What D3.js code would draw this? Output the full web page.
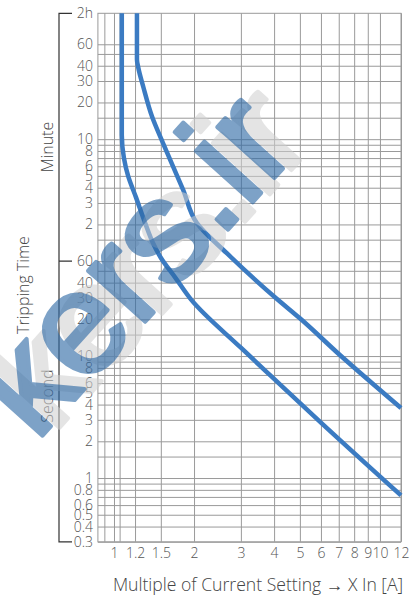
<!DOCTYPE html>
<html><head><meta charset="utf-8">
<script src="https://cdn.jsdelivr.net/npm/d3@7"></script>
<style>html,body{margin:0;padding:0;background:#fff;} svg{display:block;font-family:"Open Sans",sans-serif;}</style>
</head><body><svg id="c" width="411" height="604"></svg>
<script>
// ---- data ----
const xTickValues = [1, 1.2, 1.5, 2, 3, 4, 5, 6, 7, 8, 9, 10, 12];
const xTickLabels = ["1", "1.2", "1.5", "2", "3", "4", "5", "6", "7", "8", "9", "10", "12"];
const xGridValues = [0.92, 1, 1.05, 1.2, 1.5, 2, 3, 4, 5, 6, 7, 8, 9, 10, 12];
const xDomain = [0.87, 12];
const secondGrid = [0.3, 0.4, 0.5, 0.6, 0.7, 0.8, 0.9, 1, 1.5, 2, 3, 4, 5, 6, 7, 8, 9, 10, 15, 20, 30, 40, 50];
const minuteGrid = [1, 1.5, 2, 3, 4, 5, 6, 7, 8, 9, 10, 15, 20, 30, 40, 50, 60];
const secondLabels = [0.3, 0.4, 0.5, 0.6, 0.8, 1, 2, 3, 4, 5, 6, 8, 10, 20, 30, 40, 60];
const minuteLabels = [2, 3, 4, 5, 6, 8, 10, 20, 30, 40, 60];
const topLabel = "2h";
const tBottom = 0.3;     // seconds, bottom edge of grid
const tTop = 6460;       // seconds, top edge of grid (labelled 2h)
// tripping curves: multiple of In, time in seconds
const lowerX = [1.07, 1.07, 1.09, 1.13, 1.21, 1.31, 1.40, 1.50, 1.70, 1.95, 3, 4, 6, 12];
const lowerT = [6460, 650, 420, 300, 200, 123, 85, 64, 44, 29, 11.7, 6.5, 2.85, 0.72];
const upperX = [1.22, 1.22, 1.235, 1.29, 1.39, 1.53, 1.82, 2.05, 2.65, 4.09, 5, 7.07, 12];
const upperT = [6460, 2700, 2300, 1600, 920, 555, 230, 123, 70, 29.5, 20.4, 10.2, 3.75];
const watermark = "kers.ir";
const xTitle = "Multiple of Current Setting \u2192 X In [A]";

// ---- layout ----
const L = 97.9, R = 401, T = 13.3, B = 541.8;
const svg = d3.select("#c");
const x = d3.scaleLog().domain(xDomain).range([L, R]);
const y = d3.scaleLog().domain([tBottom, tTop]).range([B, T]);
const gridColor = "#9a9a9a";

// grid (vertical)
svg.append("g").attr("transform", `translate(0,${B})`)
  .call(d3.axisBottom(x).tickValues(xGridValues).tickSize(-(B - T)).tickFormat(""))
  .call(g => g.select(".domain").remove())
  .call(g => g.selectAll("line").attr("stroke", gridColor).attr("stroke-width", 1));
// grid (horizontal)
const hGrid = secondGrid.concat(minuteGrid.map(m => m * 60));
svg.append("g").attr("transform", `translate(${L},0)`)
  .call(d3.axisLeft(y).tickValues(hGrid).tickSize(-(R - L)).tickFormat(""))
  .call(g => g.select(".domain").remove())
  .call(g => g.selectAll("line").attr("stroke", gridColor).attr("stroke-width", 1));
// frame
svg.append("rect").attr("x", L).attr("y", T).attr("width", R - L).attr("height", B - T)
  .attr("fill", "none").attr("stroke", gridColor).attr("stroke-width", 1);

// curves
const line = d3.line().x(d => x(d[0])).y(d => y(d[1])).curve(d3.curveMonotoneY);
[[lowerX, lowerT], [upperX, upperT]].forEach(([xs, ts]) => {
  svg.append("path").datum(xs.map((v, i) => [v, ts[i]]))
    .attr("d", line).attr("fill", "none").attr("stroke", "#3b7bc2")
    .attr("stroke-width", 4.5).attr("stroke-linecap", "butt").attr("stroke-linejoin", "round");
});

// x axis labels
svg.append("g").attr("transform", `translate(0,${B})`)
  .call(d3.axisBottom(x).tickValues(xTickValues).tickSize(0).tickPadding(6)
    .tickFormat((d, i) => xTickLabels[i]))
  .call(g => g.select(".domain").remove())
  .call(g => g.selectAll("text").attr("fill", "#555").attr("font-size", 14)
    .attr("font-family", "'Open Sans',sans-serif").attr("font-weight", 300));

// y axis labels
const lab = g => g.call(gg => gg.select(".domain").remove())
  .call(gg => gg.selectAll("text").attr("fill", "#555").attr("font-size", 14)
    .attr("font-family", "'Open Sans',sans-serif").attr("font-weight", 300));
const yLabX = 96;
svg.append("g").attr("transform", `translate(${yLabX},0)`)
  .call(d3.axisLeft(y).tickValues(secondLabels).tickSize(0).tickPadding(3).tickFormat(d => String(d)))
  .call(lab);
svg.append("g").attr("transform", `translate(${yLabX},0)`)
  .call(d3.axisLeft(y).tickValues(minuteLabels.map(m => m * 60)).tickSize(0).tickPadding(3)
    .tickFormat(d => String(d / 60)))
  .call(lab);
svg.append("g").attr("transform", `translate(${yLabX},0)`)
  .call(d3.axisLeft(y).tickValues([tTop]).tickSize(0).tickPadding(3).tickFormat(() => topLabel))
  .call(lab);

// bracket
const bx = 59, bt = 72;
svg.append("path")
  .attr("d", `M${bt},${y(tTop)}H${bx}V${y(tBottom)}H${bt}M${bx},${y(60)}H${bt}`)
  .attr("fill", "none").attr("stroke", "#333").attr("stroke-width", 1.2);

// axis titles
const title = (txt, tx, ty, rot, fs) => svg.append("text").text(txt)
  .attr("transform", `translate(${tx},${ty}) rotate(${rot})`)
  .attr("text-anchor", "middle").attr("fill", "#444").attr("font-size", fs).attr("font-weight", 300);
title("Minute", 53, 147, -90, 16);
title("Tripping Time", 29, 285, -90, 16);
title("Second", 53, 396, -90, 16);
title(xTitle, 258, 591, 0, 17.6);

// watermark
const wmFont = g => g.attr("font-family", "'Liberation Sans',Arial,sans-serif")
  .attr("font-size", 145).attr("font-weight", 400).attr("stroke-width", 4).attr("stroke-linejoin", "round");
const wmShadow = svg.append("g").attr("opacity", 0.55).call(wmFont);
wmShadow.append("text").text(watermark).attr("transform", "translate(53,435) rotate(-48)")
  .attr("fill", "#cfcfcf").attr("stroke", "#cfcfcf");
const wmMain = svg.append("g").attr("opacity", 0.62).call(wmFont);
wmMain.append("text").text(watermark).attr("transform", "translate(36,443) rotate(-48)")
  .attr("fill", "#2f6aa6").attr("stroke", "#2f6aa6");
</script></body></html>
